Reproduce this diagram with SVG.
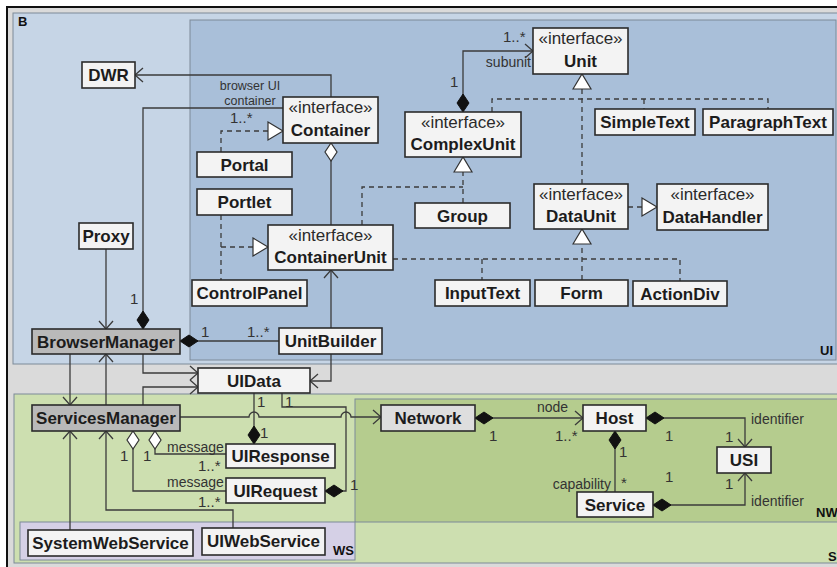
<svg xmlns="http://www.w3.org/2000/svg" width="837" height="567" viewBox="0 0 837 567">
<style>
.pk{stroke:#7d8a98;stroke-width:1}
.box{fill:#f3f3f3;stroke:#2b2b2b;stroke-width:1.6}
.g{fill:#b9b9b9}
.n{fill:#dedede}
.t{font-family:"Liberation Sans",Arial,sans-serif;font-size:17px;font-weight:bold;fill:#1c1c1c;text-anchor:middle}
.s{font-weight:normal;fill:#2a2a2a}
.lb{font-family:"Liberation Sans",Arial,sans-serif;font-size:14px;fill:#333}
.sm{font-size:12.5px}
.m{font-size:15px}
.c{text-anchor:middle}
.e{text-anchor:end}
.ln{fill:none;stroke:#3b3b3b;stroke-width:1.3}
.ds{stroke-dasharray:5 4}
.pl{font-family:"Liberation Sans",Arial,sans-serif;font-size:13px;font-weight:bold;fill:#111}
</style>
<defs>
<marker id="arr" markerUnits="userSpaceOnUse" markerWidth="12" markerHeight="18" refX="9" refY="8" orient="auto-start-reverse"><path d="M1,1 L9,8 L1,15" fill="none" stroke="#3b3b3b" stroke-width="1.3"/></marker>
<marker id="fd" markerUnits="userSpaceOnUse" markerWidth="21" markerHeight="14" refX="19" refY="7" orient="auto-start-reverse"><path d="M1,7 L10,1 L19,7 L10,13 Z" fill="#111" stroke="#111" stroke-width="1"/></marker>
<marker id="hd" markerUnits="userSpaceOnUse" markerWidth="21" markerHeight="14" refX="19" refY="7" orient="auto-start-reverse"><path d="M1,7 L10,1 L19,7 L10,13 Z" fill="#fff" stroke="#333" stroke-width="1.2"/></marker>
<marker id="tri" markerUnits="userSpaceOnUse" markerWidth="18" markerHeight="21" refX="16" refY="10" orient="auto-start-reverse"><path d="M1,1 L16,10 L1,19 Z" fill="#fff" stroke="#333" stroke-width="1.2"/></marker>
</defs>

<rect x="0" y="0" width="837" height="567" fill="#fff"/>
<rect x="7" y="7" width="840" height="570" fill="#dadada" stroke="#111" stroke-width="2"/>
<g id="pkgB"><rect class="pk" x="13" y="13" width="830" height="351" fill="#c6d5e6"/><text class="pl" x="18" y="26">B</text></g>
<g id="pkgUI"><rect class="pk" x="190" y="20" width="646" height="340" fill="#a9bfd9"/><text class="pl" x="820" y="355">UI</text></g>
<g id="pkgS"><rect class="pk" x="14" y="394" width="830" height="169" fill="#cddfb0"/><text class="pl" x="828" y="561">S</text></g>
<g id="pkgNW"><rect class="pk" x="355" y="399" width="485" height="123" fill="#b5cc8e"/><text class="pl" x="816" y="517">NW</text></g>
<g id="pkgWS"><rect class="pk" x="20" y="522" width="335" height="38" fill="#d5d0e6"/><text class="pl" x="333" y="555">WS</text></g>

<g id="connectors">
<path class="ln" d="M331,97 V75 H135" marker-end="url(#arr)"/>
<path class="ln" d="M283,108 H143 V329" marker-end="url(#fd)"/>
<path class="ln ds" d="M221,152 V131 H283" marker-end="url(#tri)"/>
<path class="ln ds" d="M221,215 V280"/>
<path class="ln ds" d="M221,247 H268" marker-end="url(#tri)"/>
<path class="ln" d="M331,225 V143" marker-end="url(#hd)"/>
<path class="ln" d="M331,328 V270" marker-end="url(#arr)"/>
<path class="ln" d="M331,354 V381 H310" marker-end="url(#arr)"/>
<path class="ln" d="M279,341 H180" marker-end="url(#fd)"/>
<path class="ln" d="M106,249 V329" marker-end="url(#arr)"/>
<path class="ln" d="M143,354 V373 H198" marker-end="url(#arr)"/>
<path class="ln" d="M143,405 V387 H198" marker-end="url(#arr)"/>
<path class="ln" d="M70,354 V405" marker-end="url(#arr)"/>
<path class="ln" d="M106,405 V354" marker-end="url(#arr)"/>
<path class="ln" d="M70,530 V431" marker-end="url(#arr)"/>
<path class="ln" d="M233,528 V510 H106 V431" marker-end="url(#arr)"/>
<path class="ln" d="M226,454 H155 V431" marker-end="url(#hd)"/>
<path class="ln" d="M226,491 H133 V431" marker-end="url(#hd)"/>
<path class="ln" d="M254,393 V444" marker-end="url(#fd)"/>
<path class="ln" d="M282,393 V407 H346 V491 H325" marker-end="url(#fd)"/>
<path class="ln" d="M180,417 H249 A5,5 0 0 1 259,417 H341 A5,5 0 0 1 351,417 H381" marker-end="url(#arr)"/>
<path class="ln" d="M475,418 H583" marker-start="url(#fd)" marker-end="url(#arr)"/>
<path class="ln" d="M646,418 H745 V447" marker-start="url(#fd)" marker-end="url(#arr)"/>
<path class="ln" d="M615,431 V492" marker-start="url(#fd)"/>
<path class="ln" d="M653,505 H745 V473" marker-start="url(#fd)" marker-end="url(#arr)"/>
<path class="ln" d="M463,112 V51 H533" marker-start="url(#fd)" marker-end="url(#arr)"/>
<path class="ln ds" d="M582,184 V74" marker-end="url(#tri)"/>
<path class="ln ds" d="M492,112 V99 H768 V109"/>
<path class="ln ds" d="M644,99 V109"/>
<path class="ln ds" d="M463,203 V157" marker-end="url(#tri)"/>
<path class="ln ds" d="M362,225 V187 H463"/>
<path class="ln ds" d="M628,207 H657" marker-end="url(#tri)"/>
<path class="ln ds" d="M582,280 V229" marker-end="url(#tri)"/>
<path class="ln ds" d="M393,259 H680 V281"/>
<path class="ln ds" d="M482,259 V280"/>

<text class="lb sm c" x="250" y="90">browser UI</text>
<text class="lb sm c" x="250" y="105">container</text>
<text class="lb m" x="230" y="123">1..*</text>
<text class="lb m" x="130" y="304">1</text>
<text class="lb m" x="201" y="337">1</text>
<text class="lb m" x="247" y="337">1..*</text>
<text class="lb m" x="503" y="42">1..*</text>
<text class="lb e" x="531" y="67">subunit</text>
<text class="lb m" x="450" y="87">1</text>
<text class="lb m" x="257" y="407">1</text>
<text class="lb m" x="285" y="407">1</text>
<text class="lb m" x="260" y="438">1</text>
<text class="lb m" x="350" y="490">1</text>
<text class="lb m" x="120" y="461">1</text>
<text class="lb m" x="143" y="461">1</text>
<text class="lb" x="167" y="452">message</text>
<text class="lb m" x="198" y="471">1..*</text>
<text class="lb" x="167" y="487">message</text>
<text class="lb m" x="198" y="507">1..*</text>
<text class="lb" x="537" y="412">node</text>
<text class="lb m" x="489" y="441">1</text>
<text class="lb m" x="555" y="441">1..*</text>
<text class="lb m" x="665" y="441">1</text>
<text class="lb" x="751" y="424">identifier</text>
<text class="lb m" x="725" y="442">1</text>
<text class="lb m" x="619" y="457">1</text>
<text class="lb e" x="611" y="489">capability</text>
<text class="lb m" x="621" y="488">*</text>
<text class="lb m" x="665" y="482">1</text>
<text class="lb m" x="725" y="489">1</text>
<text class="lb" x="751" y="506">identifier</text>
</g>

<g id="DWR"><rect class="box" x="82" y="62" width="53" height="26"/><text class="t" x="108.5" y="81">DWR</text></g>
<g id="Container"><rect class="box" x="283" y="97" width="95" height="46"/><text class="t s" x="330.5" y="113">«interface»</text><text class="t" x="330.5" y="136">Container</text></g>
<g id="Portal"><rect class="box" x="197" y="152" width="95" height="25"/><text class="t" x="244.5" y="171">Portal</text></g>
<g id="Portlet"><rect class="box" x="197" y="189" width="95" height="26"/><text class="t" x="244.5" y="208">Portlet</text></g>
<g id="ContainerUnit"><rect class="box" x="268" y="225" width="125" height="45"/><text class="t s" x="330.5" y="241">«interface»</text><text class="t" x="330.5" y="263">ContainerUnit</text></g>
<g id="ControlPanel"><rect class="box" x="192" y="280" width="115" height="26"/><text class="t" x="249.5" y="299">ControlPanel</text></g>
<g id="UnitBuilder"><rect class="box" x="279" y="328" width="103" height="26"/><text class="t" x="330.5" y="347">UnitBuilder</text></g>
<g id="UIData"><rect class="box" x="198" y="368" width="112" height="25"/><text class="t" x="254" y="387">UIData</text></g>
<g id="BrowserManager"><rect class="box g" x="32" y="329" width="148" height="25"/><text class="t" x="106" y="348">BrowserManager</text></g>
<g id="Proxy"><rect class="box" x="79" y="223" width="54" height="26"/><text class="t" x="106" y="242">Proxy</text></g>
<g id="ServicesManager"><rect class="box g" x="32" y="405" width="148" height="26"/><text class="t" x="106" y="424">ServicesManager</text></g>
<g id="UIResponse"><rect class="box" x="226" y="444" width="109" height="24"/><text class="t" x="280.5" y="462">UIResponse</text></g>
<g id="UIRequest"><rect class="box" x="226" y="478" width="99" height="25"/><text class="t" x="275.5" y="497">UIRequest</text></g>
<g id="SystemWebService"><rect class="box" x="28" y="530" width="165" height="26"/><text class="t" x="110.5" y="549">SystemWebService</text></g>
<g id="UIWebService"><rect class="box" x="202" y="528" width="123" height="27"/><text class="t" x="263.5" y="547">UIWebService</text></g>
<g id="Network"><rect class="box n" x="381" y="405" width="94" height="26"/><text class="t" x="428" y="424">Network</text></g>
<g id="Host"><rect class="box" x="583" y="405" width="63" height="26"/><text class="t" x="614.5" y="424">Host</text></g>
<g id="USI"><rect class="box" x="717" y="447" width="54" height="26"/><text class="t" x="744" y="466">USI</text></g>
<g id="Service"><rect class="box" x="577" y="492" width="76" height="25"/><text class="t" x="615" y="511">Service</text></g>
<g id="Unit"><rect class="box" x="533" y="28" width="95" height="46"/><text class="t s" x="580.5" y="44">«interface»</text><text class="t" x="580.5" y="67">Unit</text></g>
<g id="ComplexUnit"><rect class="box" x="405" y="112" width="116" height="45"/><text class="t s" x="463" y="128">«interface»</text><text class="t" x="463" y="150">ComplexUnit</text></g>
<g id="SimpleText"><rect class="box" x="595" y="109" width="100" height="26"/><text class="t" x="645" y="128">SimpleText</text></g>
<g id="ParagraphText"><rect class="box" x="703" y="109" width="130" height="26"/><text class="t" x="768" y="128">ParagraphText</text></g>
<g id="Group"><rect class="box" x="415" y="203" width="95" height="25"/><text class="t" x="462.5" y="222">Group</text></g>
<g id="DataUnit"><rect class="box" x="534" y="184" width="94" height="45"/><text class="t s" x="581" y="200">«interface»</text><text class="t" x="581" y="222">DataUnit</text></g>
<g id="DataHandler"><rect class="box" x="657" y="184" width="111" height="46"/><text class="t s" x="712.5" y="200">«interface»</text><text class="t" x="712.5" y="223">DataHandler</text></g>
<g id="InputText"><rect class="box" x="435" y="280" width="95" height="26"/><text class="t" x="482.5" y="299">InputText</text></g>
<g id="Form"><rect class="box" x="535" y="280" width="93" height="26"/><text class="t" x="581.5" y="299">Form</text></g>
<g id="ActionDiv"><rect class="box" x="633" y="281" width="94" height="25"/><text class="t" x="680" y="300">ActionDiv</text></g>
</svg>
